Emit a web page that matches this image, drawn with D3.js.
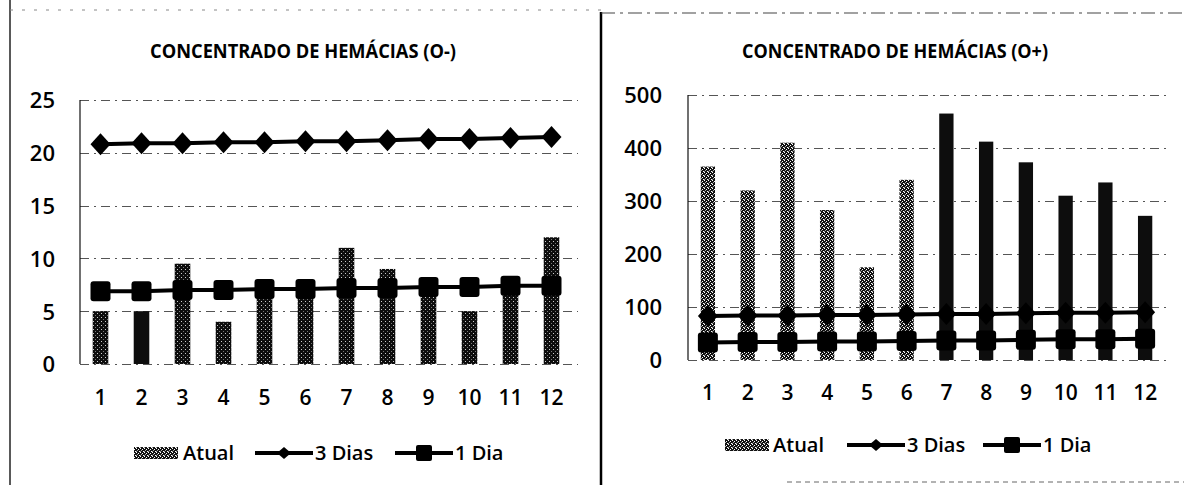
<!DOCTYPE html>
<html><head><meta charset="utf-8">
<script src="https://cdn.jsdelivr.net/npm/d3@7"></script>
<style>
html,body{margin:0;padding:0;background:#fff;}
svg{display:block;}
</style></head>
<body>
<svg id="c" width="1184" height="485"></svg>
<script>
// ---------- data ----------
const months = ["1","2","3","4","5","6","7","8","9","10","11","12"];
const seriesNames = ["Atual", "3 Dias", "1 Dia"];

const titleNeg = "CONCENTRADO DE HEMÁCIAS (O-)";
const atualNeg = [5, 5, 9.5, 4, 7, 7, 11, 9, 7, 5, 7, 12];
const dias3Neg = [20.8, 20.9, 20.9, 21.0, 21.0, 21.1, 21.1, 21.2, 21.3, 21.3, 21.4, 21.5];
const dia1Neg  = [6.9, 6.9, 7.0, 7.0, 7.1, 7.1, 7.2, 7.2, 7.3, 7.3, 7.4, 7.4];
const ticksNeg = [0, 5, 10, 15, 20, 25];

const titlePos = "CONCENTRADO DE HEMÁCIAS (O+)";
const atualPos = [365, 320, 410, 283, 175, 340, 465, 412, 373, 310, 335, 272];
const dias3Pos = [83, 84, 84, 85, 85, 86, 87, 87, 88, 89, 89, 90];
const dia1Pos  = [33, 34, 34, 35, 35, 36, 37, 37, 38, 39, 39, 40];
const ticksPos = [0, 100, 200, 300, 400, 500];

// ---------- drawing ----------
const svg = d3.select("#c");
const FONT = "'Open Sans', 'DejaVu Sans', sans-serif";
const defs = svg.append("defs");

function stipple(id, whites, base) {
  const p = defs.append("pattern").attr("id", id).attr("patternUnits", "userSpaceOnUse")
    .attr("width", 4).attr("height", 4);
  p.append("rect").attr("width", 4).attr("height", 4).attr("fill", base);
  whites.forEach(([x, y, c]) => p.append("rect").attr("x", x).attr("y", y)
    .attr("width", 1).attr("height", 1).attr("fill", c || "#fff"));
}
stipple("stipLight", [[0,0],[2,1],[1,2,"#aaa"],[3,3],[0,3,"#888"]], "#111");
stipple("stipDark", [[1,1,"#ccc"],[3,3,"#777"]], "#0d0d0d");

// frames of the scanned page
svg.append("line").attr("x1", 10).attr("x2", 10).attr("y1", 0).attr("y2", 485)
  .attr("stroke", "#222").attr("stroke-width", 1.5);
svg.append("line").attr("x1", 601).attr("x2", 601).attr("y1", 12).attr("y2", 485)
  .attr("stroke", "#000").attr("stroke-width", 2.5);
svg.append("line").attr("x1", 10).attr("x2", 601).attr("y1", 10).attr("y2", 10)
  .attr("stroke", "#888").attr("stroke-width", 1).attr("stroke-dasharray", "3,9");
svg.append("line").attr("x1", 601).attr("x2", 1184).attr("y1", 13).attr("y2", 13)
  .attr("stroke", "#444").attr("stroke-width", 1.2).attr("stroke-dasharray", "14,5,3,5");
svg.append("line").attr("x1", 787).attr("x2", 1184).attr("y1", 482).attr("y2", 482)
  .attr("stroke", "#666").attr("stroke-width", 1).attr("stroke-dasharray", "5,4");

function chart(cfg) {
  const g = svg.append("g");
  const x = d3.scaleBand().domain(months).range([cfg.x0, cfg.x1]).paddingInner(cfg.pad).paddingOuter(cfg.pad / 2);
  const y = d3.scaleLinear().domain([0, cfg.ticks[cfg.ticks.length - 1]]).range([cfg.y0, cfg.y1]);
  const xc = d => x(d) + x.bandwidth() / 2;

  // title
  g.append("text").attr("x", cfg.titleX).attr("y", 58).attr("text-anchor", "middle")
    .attr("font-family", FONT).attr("font-weight", 700).attr("font-size", 19)
    .attr("textLength", 306).attr("lengthAdjust", "spacingAndGlyphs")
    .text(cfg.title);

  // gridlines
  g.append("g").selectAll("line").data(cfg.ticks).join("line")
    .attr("x1", cfg.x0).attr("x2", cfg.x1 + 6)
    .attr("y1", d => Math.round(y(d)) + 0.5).attr("y2", d => Math.round(y(d)) + 0.5)
    .attr("stroke", "#555").attr("stroke-width", 1).attr("stroke-dasharray", "9,5,2,5");

  // y axis
  const ya = g.append("g").attr("transform", `translate(${cfg.labelX},0)`)
    .call(d3.axisLeft(y).tickValues(cfg.ticks).tickSize(0).tickPadding(0));
  ya.select(".domain").remove();
  ya.selectAll("text").attr("font-family", FONT).attr("font-size", 22).attr("font-weight", 600)
    .attr("fill", "#000").attr("dy", "0.36em");
  g.append("line").attr("x1", cfg.x0).attr("x2", cfg.x0).attr("y1", cfg.y1).attr("y2", cfg.y0)
    .attr("stroke", "#111").attr("stroke-width", 1.2);

  // x axis
  const xa = g.append("g").attr("transform", `translate(0,${cfg.xLabelY})`)
    .call(d3.axisBottom(x).tickSize(0).tickPadding(0));
  xa.select(".domain").remove();
  xa.selectAll("text").attr("font-family", FONT).attr("font-size", 21).attr("font-weight", 600)
    .attr("fill", "#000").attr("dy", "0");

  // bars
  g.append("g").selectAll("rect").data(cfg.atual).join("rect")
    .attr("x", (d, i) => x(months[i])).attr("width", x.bandwidth())
    .attr("y", d => y(d)).attr("height", d => y(0) - y(d))
    .attr("fill", (d, i) => cfg.shade(i));

  // lines
  const line = d3.line().x((d, i) => xc(months[i])).y(d => y(d));
  g.append("path").datum(cfg.d3).attr("d", line).attr("fill", "none")
    .attr("stroke", "#000").attr("stroke-width", 4);
  g.append("path").datum(cfg.d1).attr("d", line).attr("fill", "none")
    .attr("stroke", "#000").attr("stroke-width", 4);
  g.append("g").selectAll("path").data(cfg.d3).join("path")
    .attr("d", "M0,-11L10,0L0,11L-10,0Z").attr("fill", "#000")
    .attr("transform", (d, i) => `translate(${xc(months[i])},${y(d)})`);
  g.append("g").selectAll("rect").data(cfg.d1).join("rect")
    .attr("x", (d, i) => xc(months[i]) - 10).attr("y", d => y(d) - 10)
    .attr("width", 20).attr("height", 20).attr("rx", 3).attr("fill", "#000");

  // legend
  const L = cfg.legend;
  const lg = g.append("g").attr("font-family", FONT).attr("font-size", 20).attr("font-weight", 600);
  lg.append("rect").attr("x", L.sw).attr("y", L.y - 6).attr("width", 44).attr("height", 12)
    .attr("fill", "url(#stipLight)");
  lg.append("text").attr("x", L.t0).attr("y", L.y).attr("dy", "0.35em").text(seriesNames[0]);
  lg.append("line").attr("x1", L.l1).attr("x2", L.l1 + 58).attr("y1", L.y).attr("y2", L.y)
    .attr("stroke", "#000").attr("stroke-width", 4);
  lg.append("path").attr("d", "M0,-6L7,0L0,6L-7,0Z").attr("fill", "#000")
    .attr("transform", `translate(${L.l1 + 29},${L.y})`);
  lg.append("text").attr("x", L.l1 + 60).attr("y", L.y).attr("dy", "0.35em").text(seriesNames[1]);
  lg.append("line").attr("x1", L.l2).attr("x2", L.l2 + 58).attr("y1", L.y).attr("y2", L.y)
    .attr("stroke", "#000").attr("stroke-width", 4);
  lg.append("rect").attr("x", L.l2 + 21).attr("y", L.y - 8).attr("width", 16).attr("height", 16)
    .attr("rx", 2).attr("fill", "#000");
  lg.append("text").attr("x", L.l2 + 60).attr("y", L.y).attr("dy", "0.35em").text(seriesNames[2]);
}

chart({
  title: titleNeg, titleX: 303, atual: atualNeg, d3: dias3Neg, d1: dia1Neg, ticks: ticksNeg,
  x0: 80, x1: 572, y0: 364, y1: 100, pad: 0.62, labelX: 55, xLabelY: 405,
  shade: i => (i === 1 ? "#0d0d0d" : "url(#stipDark)"),
  legend: { y: 453, sw: 134, t0: 183, l1: 255, l2: 395 }
});
chart({
  title: titlePos, titleX: 895, atual: atualPos, d3: dias3Pos, d1: dia1Pos, ticks: ticksPos,
  x0: 688, x1: 1165, y0: 360, y1: 95, pad: 0.64, labelX: 662, xLabelY: 400,
  shade: i => (i < 6 ? "url(#stipLight)" : "#0d0d0d"),
  legend: { y: 445, sw: 725, t0: 773, l1: 847, l2: 983 }
});
</script>
</body></html>
